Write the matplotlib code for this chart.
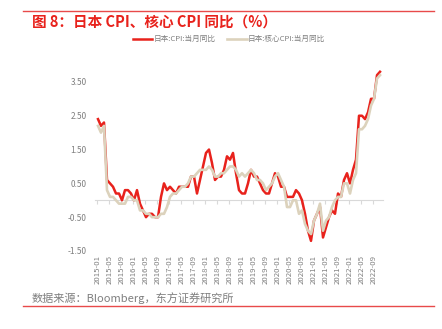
import matplotlib
matplotlib.use("Agg")
import matplotlib.pyplot as plt
import numpy as np

plt.rcParams['font.family'] = ['Noto Sans CJK SC', 'DejaVu Sans']

# monthly YoY, 2015-01 .. 2022-11
months = [f"{y}-{m:02d}" for y in range(2015, 2023) for m in range(1, 13)][:95]

cpi = [2.4, 2.2, 2.3, 0.6, 0.5, 0.4, 0.2, 0.2, 0.0, 0.3, 0.3, 0.2,
       0.0, 0.3, -0.1, -0.3, -0.5, -0.4, -0.4, -0.5, -0.5, 0.1, 0.5, 0.3,
       0.4, 0.3, 0.2, 0.4, 0.4, 0.4, 0.4, 0.7, 0.7, 0.2, 0.6, 1.0,
       1.4, 1.5, 1.1, 0.6, 0.7, 0.7, 0.9, 1.3, 1.2, 1.4, 0.8, 0.3,
       0.2, 0.2, 0.5, 0.9, 0.7, 0.7, 0.5, 0.3, 0.2, 0.2, 0.5, 0.8,
       0.7, 0.4, 0.4, 0.1, 0.1, 0.1, 0.3, 0.2, 0.0, -0.4, -0.9, -1.2,
       -0.6, -0.4, -0.2, -1.1, -0.8, -0.5, -0.3, -0.4, 0.2, 0.1, 0.6, 0.8,
       0.5, 0.9, 1.2, 2.5, 2.5, 2.4, 2.6, 3.0, 3.0, 3.7, 3.8]

core = [2.2, 2.0, 2.2, 0.3, 0.1, 0.1, 0.0, -0.1, -0.1, -0.1, 0.1, 0.1,
        0.0, 0.0, -0.3, -0.3, -0.4, -0.4, -0.5, -0.5, -0.5, -0.4, -0.4, -0.2,
        0.1, 0.2, 0.2, 0.3, 0.4, 0.4, 0.5, 0.7, 0.7, 0.8, 0.9, 0.9,
        0.9, 1.0, 0.9, 0.7, 0.7, 0.8, 0.8, 0.9, 1.0, 1.0, 0.9, 0.7,
        0.8, 0.7, 0.8, 0.9, 0.8, 0.6, 0.6, 0.5, 0.3, 0.4, 0.5, 0.7,
        0.8, 0.6, 0.4, -0.2, -0.2, 0.0, 0.0, -0.4, -0.3, -0.7, -0.9, -1.0,
        -0.6, -0.4, -0.1, -0.9, -0.6, -0.5, -0.2, 0.0, 0.1, 0.1, 0.5, 0.5,
        0.2, 0.6, 0.8, 2.1, 2.1, 2.2, 2.4, 2.8, 3.0, 3.6, 3.7]

yticks = [-1.5, -0.5, 0.5, 1.5, 2.5, 3.5]

RED = "#E8221C"
BEIGE = "#DCD2BC"
GRAY = "#7F7F7F"

fig = plt.figure(figsize=(4.42, 3.29), dpi=100)
ax = fig.add_axes([95 / 442, 78 / 329, 288 / 442, 186 / 329])

x = np.arange(len(months))
ax.plot(x, cpi, color=RED, lw=1.8, label="日本:CPI:当月同比", zorder=3)
ax.plot(x, core, color=BEIGE, lw=1.9, label="日本:核心CPI:当月同比", zorder=3)

ax.set_xlim(-1, 95)
ax.set_ylim(-1.5, 4.0)
ax.set_yticks(yticks)
ax.set_yticklabels([f"{v:.2f}" for v in yticks])
ax.tick_params(axis="y", length=0, labelsize=6, labelcolor=GRAY, pad=6)

tick_pos = x[::4][:24]
ax.set_xticks(tick_pos)
ax.set_xticklabels([months[i] for i in tick_pos], rotation=90)
ax.tick_params(axis="x", length=0, labelsize=5.6, labelcolor=GRAY, pad=3)

for s in ax.spines.values():
    s.set_visible(False)

# category axis crossing at zero with its own tick marks
zero_ax = ax.secondary_xaxis(0, transform=ax.transData)
zero_ax.set_xticks(tick_pos - 0.5)
zero_ax.set_xticklabels([])
zero_ax.tick_params(length=3, color="#D9D9D9", width=0.8)
zero_ax.spines["bottom"].set_color("#D9D9D9")
zero_ax.spines["bottom"].set_linewidth(0.8)

ax.legend(loc="lower center", bbox_to_anchor=(0.465, 1.08), ncol=2, frameon=False,
          fontsize=5.5, labelcolor=GRAY, handlelength=2.5, columnspacing=1.6,
          handletextpad=0.2)

fig.text(32 / 442, 1 - 22 / 329, "图 8：日本 CPI、核心 CPI 同比（%）", color=RED,
         fontsize=10.5, fontweight="bold", va="center", ha="left")
fig.text(32 / 442, 1 - 298 / 329, "数据来源：Bloomberg，东方证券研究所", color=GRAY,
         fontsize=8, va="center", ha="left")
fig.add_artist(plt.Line2D([23 / 442, 434 / 442], [1 - 10.5 / 329] * 2,
                          color="#E84A4A", lw=1.0))
fig.add_artist(plt.Line2D([23 / 442, 434 / 442], [1 - 306 / 329] * 2,
                          color="#E84A4A", lw=1.0))

fig.savefig("out.png", dpi=100)
